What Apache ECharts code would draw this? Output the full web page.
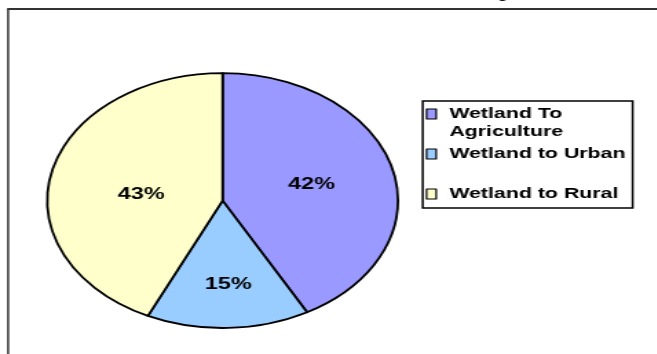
<!DOCTYPE html>
<html>
<head>
<meta charset="utf-8">
<script src="https://cdn.jsdelivr.net/npm/echarts@6/dist/echarts.min.js"></script>
<style>
  html, body { margin: 0; padding: 0; background: #fff; overflow: hidden; width: 657px; height: 354px; }
  /* The chart is laid out narrow and stretched sideways, so the pie becomes an ellipse */
  #chart { width: 477.3px; height: 354px; transform: scaleX(1.3765); transform-origin: 0 0; }
</style>
</head>
<body>
<div id="chart"></div>
<script>
// Share of converted wetland by new land use (%)
const categories = ['Wetland To Agriculture', 'Wetland to Urban', 'Wetland to Rural'];
const shares = [42, 15, 43];
// Legend text; the leading blank line keeps the key square level with "Wetland To"
const legendLabels = ['\nWetland To\nAgriculture', 'Wetland to Urban', 'Wetland to Rural'];

const sliceColors = ['#9999FF', '#99CCFF', '#FFFFCC'];
const legendTops = [87, 145, 185];
const labelOffsets = [[0, 0], [2, 17], [6, 8]];
const sansFont = '"Liberation Sans", Arial, sans-serif';

const chart = echarts.init(document.getElementById('chart'), null, { renderer: 'canvas' });

const option = {
  animation: false,
  backgroundColor: '#fff',
  graphic: [
    {
      type: 'text', x: -211.5, y: -9.5, silent: true,
      style: {
        text: 'Fig. 3: Proportion of wetland lost in restricted waters to a Wetland to Upland Conversion',
        font: 'italic 20px "Liberation Serif", "Times New Roman", serif',
        fill: '#000', align: 'left', verticalAlign: 'middle'
      }
    },
    { type: 'line', silent: true, shape: { x1: 5.9, y1: 9, x2: 5.9, y2: 400 }, style: { stroke: '#333', lineWidth: 1.5 } },
    { type: 'line', silent: true, shape: { x1: 5.2, y1: 9, x2: 500, y2: 9 }, style: { stroke: '#333', lineWidth: 2 } },
    { type: 'rect', silent: true, shape: { x: 307.1, y: 101, width: 152.5, height: 107 },
      style: { fill: null, stroke: '#000', lineWidth: 1.5 } }
  ],
  legend: categories.map((name, i) => ({
    orient: 'vertical',
    left: 309.3,
    top: legendTops[i],
    padding: 0,
    itemGap: 0,
    itemWidth: 7,
    itemHeight: 10,
    icon: 'rect',
    selectedMode: false,
    data: [name],
    formatter: () => legendLabels[i],
    itemStyle: { borderColor: '#000', borderWidth: 1.2 },
    textStyle: {
      fontFamily: sansFont, fontWeight: 'bold', fontSize: 15.5, color: '#000',
      lineHeight: 18, padding: [0, 0, 0, 4.5]
    }
  })),
  series: [{
    type: 'pie',
    center: [161.7, 200.6],
    radius: 127.4,
    startAngle: 90,
    clockwise: true,
    silent: true,
    avoidLabelOverlap: false,
    itemStyle: { borderColor: '#000', borderWidth: 1.8 },
    label: {
      show: true, position: 'inside', formatter: '{c}%',
      fontFamily: sansFont, fontWeight: 'bold', fontSize: 17, color: '#000'
    },
    labelLine: { show: false },
    emphasis: { disabled: true },
    data: categories.map((name, i) => ({
      name: name,
      value: shares[i],
      itemStyle: { color: sliceColors[i] },
      label: { offset: labelOffsets[i] }
    }))
  }]
};

chart.setOption(option);
</script>
</body>
</html>
